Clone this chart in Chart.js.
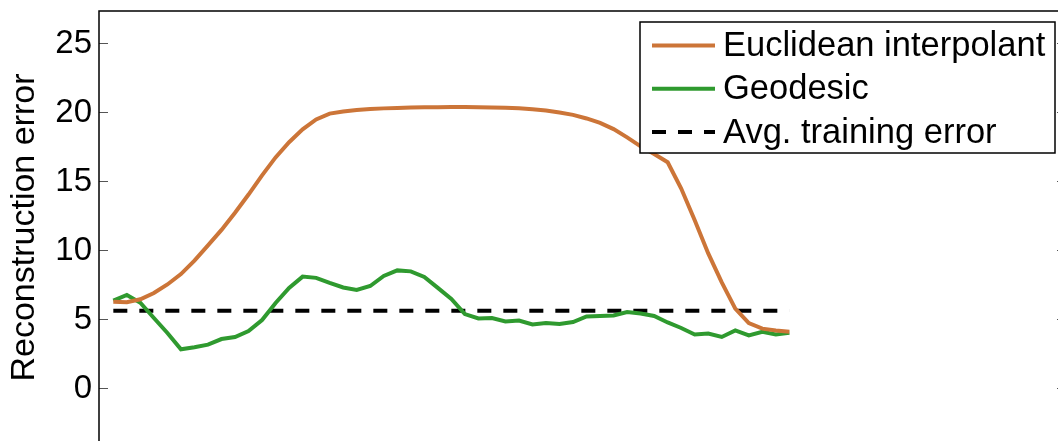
<!DOCTYPE html>
<html>
<head>
<meta charset="utf-8">
<script src="https://cdn.jsdelivr.net/npm/chart.js@4.4.1/dist/chart.umd.min.js"></script>
<style>
  html, body { margin: 0; padding: 0; overflow: hidden; background: #fff; }
  canvas { display: block; }
</style>
</head>
<body>
<canvas id="error-chart" width="1070" height="446"></canvas>
<script>
// interpolation steps along the path
const steps = [0, 1, 2, 3, 4, 5, 6, 7, 8, 9, 10, 11, 12, 13, 14, 15, 16, 17, 18, 19, 20,
  21, 22, 23, 24, 25, 26, 27, 28, 29, 30, 31, 32, 33, 34, 35, 36, 37, 38, 39, 40,
  41, 42, 43, 44, 45, 46, 47, 48, 49, 50];

const euclidean = [6.30, 6.26, 6.48, 6.93, 7.55, 8.30, 9.28, 10.38, 11.50, 12.74, 14.06,
  15.45, 16.75, 17.85, 18.78, 19.50, 19.92, 20.08, 20.18, 20.25, 20.30,
  20.33, 20.36, 20.38, 20.39, 20.40, 20.40, 20.39, 20.37, 20.34, 20.30,
  20.24, 20.15, 20.00, 19.83, 19.57, 19.25, 18.80, 18.20, 17.55, 17.00,
  16.40, 14.50, 12.20, 9.80, 7.70, 5.80, 4.75, 4.35, 4.22, 4.12];

const geodesic = [6.38, 6.79, 6.23, 5.12, 4.04, 2.86, 3.00, 3.19, 3.60, 3.75, 4.18,
  4.98, 6.21, 7.30, 8.12, 8.03, 7.66, 7.33, 7.15, 7.44, 8.17,
  8.57, 8.50, 8.09, 7.30, 6.50, 5.41, 5.09, 5.12, 4.87, 4.94,
  4.65, 4.76, 4.69, 4.83, 5.23, 5.27, 5.30, 5.56, 5.45, 5.27,
  4.80, 4.40, 3.93, 4.00, 3.75, 4.22, 3.86, 4.13, 3.93, 4.06];

const avgTrainingError = [5.65, 5.65];

const yTicks = [0, 5, 10, 15, 20, 25];

const FONT = '"Liberation Sans", Arial, Helvetica, sans-serif';
Chart.defaults.font.family = FONT;
Chart.defaults.color = '#000';

const toPoints = (ys) => ys.map((y, i) => ({ x: steps[i], y: y }));

// box round the plot area
const frame = {
  id: 'frame',
  afterDraw(chart) {
    const { ctx, chartArea } = chart;
    ctx.save();
    ctx.strokeStyle = '#000';
    ctx.lineWidth = 1.5;
    ctx.strokeRect(chartArea.left, chartArea.top,
      chartArea.right - chartArea.left, chartArea.bottom - chartArea.top);
    ctx.restore();
  }
};

// legend inside the plot, top right
const legendBox = {
  id: 'legendBox',
  afterDatasetsDraw(chart) {
    const { ctx, chartArea } = chart;
    const w = 415, h = 131;
    const right = chartArea.right - 11;
    const top = chartArea.top + 11;
    const left = right - w;
    ctx.save();
    ctx.fillStyle = '#fff';
    ctx.fillRect(left, top, w, h);
    ctx.strokeStyle = '#000';
    ctx.lineWidth = 1.5;
    ctx.strokeRect(left, top, w, h);
    ctx.font = '34.5px ' + FONT;
    ctx.textBaseline = 'middle';
    chart.data.datasets.forEach((ds, i) => {
      const y = top + 23.5 + i * 43.3;
      ctx.beginPath();
      ctx.setLineDash(ds.borderDash || []);
      ctx.strokeStyle = ds.borderColor;
      ctx.lineWidth = ds.borderWidth;
      ctx.moveTo(left + 12, y);
      ctx.lineTo(left + 75, y);
      ctx.stroke();
      ctx.setLineDash([]);
      ctx.fillStyle = '#000';
      ctx.fillText(ds.label, left + 83, y + 1);
    });
    ctx.restore();
  }
};

// keep the plot area where the layout padding puts it
const noEdgePadding = (scale) => {
  scale.paddingTop = 0;
  scale.paddingBottom = 0;
};

const ctx = document.getElementById('error-chart').getContext('2d');
new Chart(ctx, {
  type: 'line',
  data: {
    datasets: [
      {
        label: 'Euclidean interpolant',
        data: toPoints(euclidean),
        borderColor: '#cc7538',
        borderWidth: 4,
        pointRadius: 0,
        tension: 0,
      },
      {
        label: 'Geodesic',
        data: toPoints(geodesic),
        borderColor: '#2f9a2f',
        borderWidth: 4,
        pointRadius: 0,
        tension: 0,
      },
      {
        label: 'Avg. training error',
        data: [
          { x: steps[0], y: avgTrainingError[0] },
          { x: steps[steps.length - 1], y: avgTrainingError[1] },
        ],
        borderColor: '#000',
        borderWidth: 4,
        borderDash: [14, 12],
        pointRadius: 0,
      },
    ],
  },
  options: {
    responsive: false,
    animation: false,
    devicePixelRatio: 1,
    layout: { padding: { top: 11, right: 4, bottom: 2, left: 0 } },
    plugins: {
      legend: { display: false },
      tooltip: { enabled: false },
    },
    scales: {
      x: {
        type: 'linear',
        display: false,
        min: -1.06,
        max: 70.46,
      },
      y: {
        type: 'linear',
        position: 'left',
        min: -4,
        max: 27.35,
        afterBuildTicks: (scale) => { scale.ticks = yTicks.map(v => ({ value: v })); },
        afterFit: (scale) => { scale.width = 99; noEdgePadding(scale); },
        border: { display: false },
        grid: {
          drawOnChartArea: false,
          drawTicks: true,
          tickLength: -9,
          tickColor: '#555',
          tickWidth: 1,
        },
        ticks: {
          padding: 16,
          font: { size: 33 },
          color: '#000',
        },
        title: {
          display: true,
          text: 'Reconstruction error',
          font: { size: 34, lineHeight: 1.2 },
          padding: { top: 4, bottom: 0 },
          color: '#000',
        },
      },
      y2: {
        type: 'linear',
        position: 'right',
        min: -4,
        max: 27.35,
        afterBuildTicks: (scale) => { scale.ticks = yTicks.map(v => ({ value: v })); },
        afterFit: (scale) => { scale.width = 0; noEdgePadding(scale); },
        border: { display: false },
        grid: {
          drawOnChartArea: false,
          drawTicks: true,
          tickLength: -9,
          tickColor: '#555',
          tickWidth: 1,
        },
        ticks: { display: false },
      },
    },
  },
  plugins: [legendBox, frame],
});
</script>
</body>
</html>
